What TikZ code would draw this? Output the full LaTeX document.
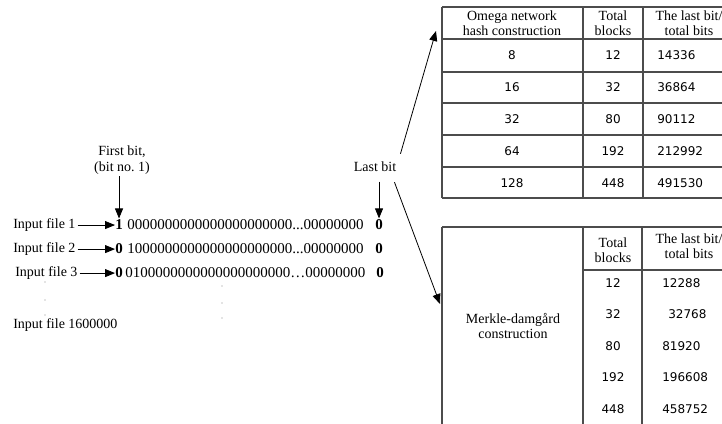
\documentclass[tikz,border=0pt]{standalone}
\usepackage{fontspec}
\setmainfont{Liberation Serif}
\newfontfamily\numfont{DejaVu Sans}
\usetikzlibrary{arrows.meta}

\begin{document}
\begin{tikzpicture}[x=0.75pt,y=-0.75pt,
    txt/.style={inner sep=0pt,font=\fontsize{10.5}{11.5}\selectfont},
    bits/.style={inner sep=0pt,anchor=base west,font=\fontsize{11.25}{12}\selectfont},
    bitb/.style={bits,font=\fontsize{11.25}{12}\selectfont\bfseries},
    num/.style={inner sep=0pt,font=\numfont\fontsize{9}{10}\selectfont},
    grid/.style={line width=0.8pt,black!70},
    arr/.style={line width=0.6pt,-{Triangle[length=7.5pt,width=6pt]}}]
    \useasboundingbox (0,0) rectangle (722,424);
    \clip (0,0) rectangle (722,424);

    % Marking input files
    \node [txt,anchor=base west] (in1) at (13,229) {Input file 1};%
    \node [txt,anchor=base west] (in2) at (13,253) {Input file 2};%
    \node [txt,anchor=base west] (in3) at (15,277) {Input file 3};%
    \node [txt,anchor=base west] (inlast) at (13,329) {Input file 1600000};%

    % Marking bit strings
    \node [bitb] (f1) at (115,230) {1};%
    \node [bits] (s1) at (127,230) {0000000000000000000000...00000000};%
    \node [bitb] (l1) at (375,230) {0};%
    \node [bitb] (f2) at (115,254) {0};%
    \node [bits] (s2) at (127,254) {1000000000000000000000...00000000};%
    \node [bitb] (l2) at (375,254) {0};%
    \node [bitb] (f3) at (115,278) {0};%
    \node [bits] (s3) at (125,278) {0100000000000000000000\ldots00000000};%
    \node [bitb] (l3) at (376,278) {0};%

    % Drawing arrows to first bits
    \foreach \i in {1,2,3}
        \draw [arr] (f\i.west -| in\i.east) ++(2,0) -- (f\i.west);%

    % Drawing vertical dots
    \foreach \x/\y in {45/282,45/300,45/315,222/286,222/303,222/318}
        \fill [black!45] (\x,\y) circle (0.5pt);%

    % Marking first and last bit
    \node [txt,align=center] (first) at (122,160) {First bit,\\(bit no.~1)};%
    \draw [arr,shorten >=1pt] (f1.north |- first.south) ++(0,2) -- (f1.north);%
    \node [txt] (lastbit) at (375,167) {Last bit};%
    \draw [arr,shorten <=7pt,shorten >=1pt] (l1.north |- lastbit.south) -- (l1.north);%

    % Drawing arrows to the tables
    \coordinate (omegatip) at (436,31);%
    \coordinate (merkletip) at (440,304);%
    \draw [arr] ([shift={(4,-8)}]lastbit.north east) -- (omegatip);%
    \draw [arr] ([shift={(-2,10)}]lastbit.south east) -- (merkletip);%

    % Drawing table of omega network construction
    \foreach \y in {7,39,72,103,135,167,198}
        \draw [grid] (442,\y) -- (722,\y);%
    \foreach \x in {442,583,643}
        \draw [grid] (\x,7) -- (\x,198);%
    \node [txt,align=center] (omega) at (512,23) {Omega network\\hash construction};%
    \node [txt,align=center] (omegablocks) at (613,23) {Total\\blocks};%
    \node [txt,align=center] (omegabits) at (689,23) {The last bit/\\total bits};%
    \foreach \w/\b/\t [count=\i] in {8/12/14336,16/32/36864,32/80/90112,64/192/212992,128/448/491530}{
        \node [num] (omegaw\i) at (512,{23.5+32*\i}) {\w};%
        \node [num] (omegab\i) at (613,{23.5+32*\i}) {\b};%
        \node [num,anchor=west] (omegat\i) at (657,{23.5+32*\i}) {\t};%
    }

    % Drawing table of Merkle-damgard construction
    \draw [grid] (442,227) -- (722,227);%
    \foreach \x in {442,583,642}
        \draw [grid] (\x,227) -- (\x,424);%
    \draw [grid] (583,270) -- (722,270);%
    \node [txt,align=center] (merkle) at (513,326) {Merkle-damgård\\construction};%
    \node [txt,align=center] (merkleblocks) at (613,250) {Total\\blocks};%
    \node [txt,align=center] (merklebits) at (689,246) {The last bit/\\total bits};%
    \foreach \b/\t/\x [count=\i] in {12/12288/662,32/32768/668,80/81920/662,192/196608/662,448/458752/662}{
        \node [num] (merkleb\i) at (613,{251.5+31.5*\i}) {\b};%
        \node [num,anchor=west] (merklet\i) at (\x,{251.5+31.5*\i}) {\t};%
    }
\end{tikzpicture}
\end{document}
